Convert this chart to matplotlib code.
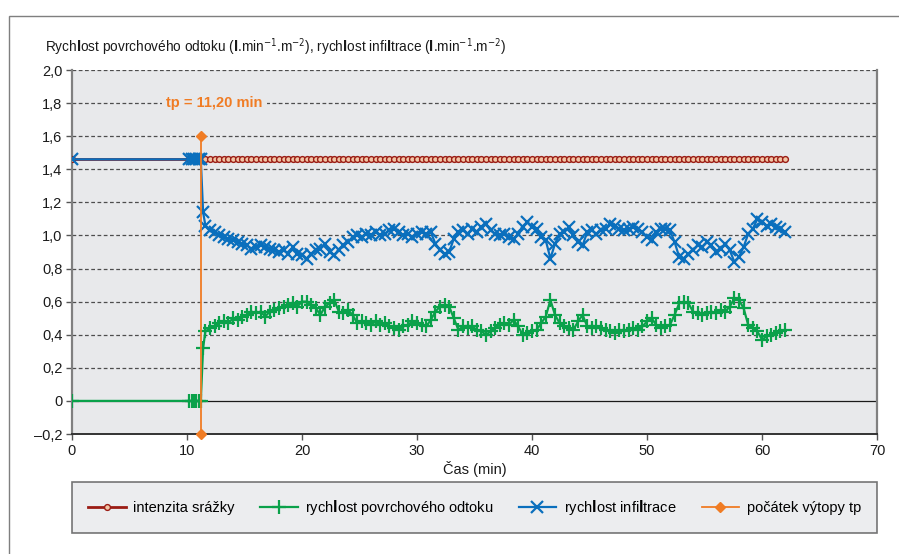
import numpy as np
import matplotlib
matplotlib.use("Agg")
import matplotlib.pyplot as plt
from matplotlib.patches import Rectangle
from matplotlib.ticker import FixedLocator

plt.rcParams['font.family'] = ['Liberation Sans Narrow', 'DejaVu Sans Condensed', 'Liberation Sans', 'DejaVu Sans']
plt.rcParams['font.stretch'] = 'condensed'
plt.rcParams['mathtext.fontset'] = 'custom'
plt.rcParams['mathtext.rm'] = 'Liberation Sans Narrow'
plt.rcParams['mathtext.bf'] = 'Liberation Sans Narrow:bold'
plt.rcParams['axes.unicode_minus'] = False

# --- data -------------------------------------------------------------
# measurements before the onset of ponding
cas_start = [0.0, 10.2, 10.4, 10.6, 10.8, 11.0, 11.2, 11.4]
odtok_start = [0.0, 0.0, 0.0, 0.0, 0.0, 0.0, 0.0, 0.32]
infiltrace_start = [1.46, 1.46, 1.46, 1.46, 1.46, 1.46, 1.46, 1.14]

# regular sampling after ponding, 11.6 .. 62.0 min
cas_main = np.round(np.arange(11.6, 62.01, 0.4), 1)

odtok_main = [
    0.42, 0.44, 0.45, 0.47, 0.48, 0.47, 0.50, 0.49, 0.51, 0.52,
    0.54, 0.53, 0.54, 0.51, 0.54, 0.55, 0.56, 0.57, 0.58, 0.59,
    0.57, 0.60, 0.60, 0.58, 0.56, 0.52, 0.57, 0.59, 0.61, 0.54,
    0.53, 0.55, 0.52, 0.47, 0.48, 0.47, 0.46, 0.48, 0.46, 0.47,
    0.45, 0.44, 0.43, 0.45, 0.46, 0.48, 0.47, 0.46, 0.45, 0.49,
    0.54, 0.57, 0.58, 0.57, 0.50, 0.43, 0.45, 0.44, 0.45, 0.43,
    0.42, 0.40, 0.42, 0.44, 0.46, 0.47, 0.46, 0.49, 0.45, 0.40,
    0.41, 0.42, 0.43, 0.47, 0.51, 0.61, 0.52, 0.47, 0.45, 0.44,
    0.43, 0.48, 0.52, 0.45, 0.44, 0.45, 0.44, 0.43, 0.42, 0.41,
    0.43, 0.42, 0.43, 0.44, 0.43, 0.45, 0.48, 0.50, 0.46, 0.44,
    0.45, 0.46, 0.52, 0.59, 0.60, 0.59, 0.54, 0.53, 0.52, 0.53,
    0.54, 0.53, 0.55, 0.54, 0.57, 0.62, 0.61, 0.56, 0.46, 0.44,
    0.42, 0.37, 0.39, 0.40, 0.41, 0.42, 0.43,
]

infiltrace_main = [
    1.06, 1.03, 1.02, 1.00, 0.99, 0.98, 0.97, 0.96, 0.95, 0.94,
    0.92, 0.93, 0.94, 0.93, 0.92, 0.91, 0.90, 0.91, 0.89, 0.93,
    0.89, 0.88, 0.86, 0.89, 0.91, 0.92, 0.95, 0.90, 0.88, 0.91,
    0.94, 0.96, 0.99, 1.00, 0.99, 1.01, 1.00, 1.02, 1.00, 1.01,
    1.03, 1.04, 1.02, 1.00, 1.01, 0.99, 1.01, 1.02, 1.01, 1.02,
    0.95, 0.91, 0.89, 0.90, 0.98, 1.02, 1.03, 1.01, 1.04, 1.02,
    1.05, 1.07, 1.03, 1.01, 1.00, 1.01, 0.99, 0.98, 1.01, 1.05,
    1.08, 1.05, 1.04, 0.99, 0.97, 0.86, 0.95, 1.01, 1.02, 1.05,
    1.00, 0.96, 0.94, 1.02, 1.03, 1.01, 1.03, 1.04, 1.07, 1.06,
    1.04, 1.03, 1.04, 1.05, 1.04, 1.02, 0.99, 0.97, 1.02, 1.04,
    1.04, 1.03, 0.96, 0.87, 0.86, 0.89, 0.91, 0.94, 0.93, 0.96,
    0.94, 0.90, 0.92, 0.95, 0.91, 0.84, 0.87, 0.93, 1.01, 1.04,
    1.10, 1.08, 1.06, 1.07, 1.05, 1.04, 1.02,
]

srazka = 1.46          # rainfall intensity, constant during the experiment
tp = 11.2              # time of ponding onset
tp_y = [-0.2, 1.6]

cas = np.concatenate([cas_start, cas_main])
odtok = np.concatenate([odtok_start, odtok_main])
infiltrace = np.concatenate([infiltrace_start, infiltrace_main])
intenzita = np.full(len(cas), srazka)

# --- figure -----------------------------------------------------------
fig = plt.figure(figsize=(8.99, 5.54), dpi=100)
fig.patch.set_facecolor('white')

# outer frame around the whole chart
fig.patches.append(Rectangle((9 / 899, -0.01), 1.0, 1 - 16 / 554 + 0.01,
                             transform=fig.transFigure, fill=False,
                             edgecolor='#7f7f7f', linewidth=1.0))

ax = fig.add_axes([72 / 899, 1 - 434 / 554, 805 / 899, 364 / 554])
ax.set_facecolor('#e8e9eb')

ax.set_xlim(0, 70)
ax.set_ylim(-0.2, 2.0)

yticks = [-0.2, 0, 0.2, 0.4, 0.6, 0.8, 1.0, 1.2, 1.4, 1.6, 1.8, 2.0]
ylabels = ['–0,2', '0', '0,2', '0,4', '0,6', '0,8', '1,0', '1,2', '1,4', '1,6', '1,8', '2,0']
ax.yaxis.set_major_locator(FixedLocator(yticks))
ax.set_yticklabels(ylabels)
ax.set_xticks(range(0, 71, 10))

for y in yticks:
    if y != 0:
        ax.axhline(y, color='#4d4d4d', linestyle=(0, (3, 2)), linewidth=0.9, zorder=1)
ax.axhline(0, color='#1a1a1a', linewidth=0.9, zorder=1)

ax.plot(cas, intenzita, color='#9b1c14', linewidth=2.0, marker='o', markersize=4.2,
        markerfacecolor='#f2c6a6', markeredgecolor='#9b1c14', markeredgewidth=1.0,
        label='intenzita srážky', zorder=3)
ax.plot(cas, odtok, color='#0aa14a', linewidth=1.6, marker='+', markersize=10,
        markeredgewidth=1.6, label=r'rych$\mathbf{l}$ost povrchového odtoku', zorder=4)
ax.plot(cas, infiltrace, color='#0a6fbd', linewidth=1.6, marker='x', markersize=8,
        markeredgewidth=1.6, label=r'rych$\mathbf{l}$ost infi$\mathbf{l}$trace', zorder=5)
ax.plot([tp, tp], tp_y, color='#f07c24', linewidth=1.3, marker='D', markersize=5,
        label='počátek výtopy tp', zorder=6, clip_on=False)

ax.text(tp + 1.2, 1.8, 'tp = 11,20 min', color='#f07c24', fontsize=10.5,
        fontweight='bold', ha='center', va='center', zorder=7,
        bbox=dict(facecolor='#e8e9eb', edgecolor='none', pad=3))

for side in ('left', 'right'):
    ax.spines[side].set_color('#808080')
    ax.spines[side].set_linewidth(1.6)
ax.spines['top'].set_visible(False)
ax.spines['bottom'].set_color('#333333')
ax.spines['bottom'].set_linewidth(1.4)

ax.tick_params(axis='both', direction='out', length=4, width=1, color='#555555',
               labelsize=10.5, labelcolor='#1a1a1a')
ax.tick_params(axis='y', pad=3)

ax.set_xlabel('Čas (min)', fontsize=10.5, color='#1a1a1a', labelpad=2)
fig.text(45 / 899, 1 - 47 / 554,
         r'Rych$\mathbf{l}$ost povrchového odtoku ($\mathbf{l}$.min$^{-1}$.m$^{-2}$), '
         r'rych$\mathbf{l}$ost infi$\mathbf{l}$trace ($\mathbf{l}$.min$^{-1}$.m$^{-2}$)',
         fontsize=9.8, color='#1a1a1a', ha='left', va='center')

leg = fig.legend(loc='center', bbox_to_anchor=(72 / 899, 1 - 532 / 554, 805 / 899, 49 / 554),
                 ncol=4, mode='expand', frameon=True, fancybox=False, fontsize=10.5,
                 handlelength=2.6, handletextpad=0.5, borderpad=1.1, borderaxespad=0)
leg.get_frame().set_facecolor('#e8e9eb')
leg.get_frame().set_edgecolor('#555555')
leg.get_frame().set_linewidth(1.2)

fig.savefig('out.png', dpi=100)
